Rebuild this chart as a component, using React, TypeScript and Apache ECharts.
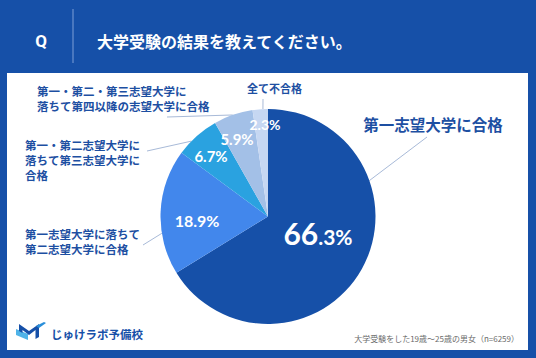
import React, { useEffect, useRef } from 'react';
import * as echarts from 'echarts';

// ---- data ----
const categories = [
  '第一志望大学に合格',
  '第一志望大学に落ちて\n第二志望大学に合格',
  '第一・第二志望大学に\n落ちて第三志望大学に\n合格',
  '第一・第二・第三志望大学に\n落ちて第四以降の志望大学に合格',
  '全て不合格',
];
const values = [66.3, 18.9, 6.7, 5.9, 2.3];
const titleText = '大学受験の結果を教えてください。';
const sourceText = '大学受験をした19歳～25歳の男女（n=6259）';
const brandText = 'じゅけラボ予備校';

// ---- styles / layout ----
const sliceColors = ['#1650A8', '#4287EC', '#2AA2E0', '#A3C0E7', '#C6D7F2'];
const BG = '#1650A8';
const LABEL_COLOR = '#1D4FA2';
const CENTER: [number, number] = [268, 216.5];
const RADIUS = 107.5;
const innerTargets: [number, number][] = [[318, 233], [197, 220], [211, 156], [237, 139], [265, 124]];
const innerSizes = [0, 16, 15, 15, 14];
const outerAnchors: [number, number, string][] = [
  [433, 124, 'center'],
  [25, 241.5, 'left'],
  [25, 159.5, 'left'],
  [37, 98.5, 'left'],
  [274.5, 88, 'center'],
];
const outerSizes = [15.5, 11.5, 11.5, 11.5, 11];
const leaderAngles = [70.5, 261, 314.5, 340.8, 357.3];
const leaderEnds: [number, number][] = [[427, 137], [143, 245], [147, 151], [167, 117], [263, 99]];

const edgePoint = (deg: number): [number, number] => {
  const a = (deg * Math.PI) / 180;
  return [CENTER[0] + RADIUS * Math.sin(a), CENTER[1] - RADIUS * Math.cos(a)];
};

export default function App() {
  const ref = useRef<HTMLDivElement>(null);
  useEffect(() => {
    if (!ref.current) return;
    const chart = echarts.init(ref.current, undefined, { renderer: 'svg' });
    const cjk = '"Noto Sans CJK JP", "Noto Sans", sans-serif';
    const option: any = {
      animation: false,
      backgroundColor: BG,
      graphic: [
        { type: 'rect', z: 0, shape: { x: 7, y: 73, width: 521, height: 277 }, style: { fill: '#ffffff' } },
        { type: 'line', z: 1, shape: { x1: 73, y1: 9, x2: 73, y2: 63 }, style: { stroke: '#7C9ED6', lineWidth: 1 } },
        {
          type: 'text', z: 1, x: 41, y: 41,
          style: { text: 'Q', fill: '#fff', fontSize: 17, fontWeight: 'bold', fontFamily: 'Roboto', align: 'center', verticalAlign: 'middle' },
        },
        {
          type: 'text', z: 1, x: 97, y: 41,
          style: { text: titleText, fill: '#fff', fontSize: 16, fontWeight: 'bold', fontFamily: cjk, align: 'left', verticalAlign: 'middle' },
        },
        {
          type: 'polygon', z: 1,
          shape: { points: [[16, 329], [28, 334], [28, 340], [16, 335]] },
          style: { fill: '#4FB3E8' },
        },
        {
          type: 'polygon', z: 1,
          shape: { points: [[19, 324], [29, 331], [39, 324], [39, 337], [35.5, 339], [35.5, 330], [29, 335], [22.5, 330], [22.5, 333], [19, 331]] },
          style: { fill: '#1650A8' },
        },
        {
          type: 'polygon', z: 1,
          shape: { points: [[36, 326], [44, 322], [46, 323], [39, 328]] },
          style: { fill: '#2A8FDA' },
        },
        {
          type: 'text', z: 1, x: 51, y: 334,
          style: { text: brandText, fill: '#1650A8', fontSize: 11.5, fontWeight: 'bold', fontFamily: cjk, align: 'left', verticalAlign: 'middle' },
        },
        {
          type: 'text', z: 1, x: 519, y: 338.5,
          style: { text: sourceText, fill: '#6B6B6B', fontSize: 8, fontFamily: cjk, align: 'right', verticalAlign: 'middle' },
        },
      ],
      series: [
        {
          type: 'pie',
          center: CENTER,
          radius: [0, RADIUS],
          startAngle: 90,
          clockwise: true,
          silent: true,
          label: {
            show: true,
            position: 'inside',
            color: '#fff',
            fontFamily: 'Lato, Roboto, sans-serif',
            fontWeight: 'bold',
            formatter: (p: any) => {
              const s = Number(p.value).toFixed(1);
              if (p.dataIndex === 0) {
                const [ip, dp] = s.split('.');
                return `{big|${ip}}{small|.${dp}%}`;
              }
              return `${s}%`;
            },
            rich: {
              big: { fontSize: 30, fontWeight: 'bold', color: '#fff', fontFamily: 'Lato, Roboto, sans-serif' },
              small: { fontSize: 21, fontWeight: 'bold', color: '#fff', fontFamily: 'Lato, Roboto, sans-serif', padding: [6, 0, 0, 0] },
            },
          },
          labelLine: { show: false },
          labelLayout: (p: any) => ({
            x: innerTargets[p.dataIndex][0],
            y: innerTargets[p.dataIndex][1],
            align: 'center',
            verticalAlign: 'middle',
          }),
          itemStyle: { borderWidth: 0 },
          data: values.map((v, i) => ({
            value: v,
            name: categories[i],
            itemStyle: { color: sliceColors[i] },
            label: i > 0 ? { fontSize: innerSizes[i] } : {},
          })),
        },
        {
          type: 'pie',
          center: CENTER,
          radius: [0, RADIUS],
          startAngle: 90,
          clockwise: true,
          silent: true,
          avoidLabelOverlap: false,
          itemStyle: { color: 'rgba(0,0,0,0)', borderWidth: 0 },
          label: {
            show: true,
            position: 'outside',
            color: LABEL_COLOR,
            fontWeight: 'bold',
            fontFamily: cjk,
            lineHeight: 15,
            formatter: '{b}',
          },
          labelLine: { show: true, length: 10, length2: 0, lineStyle: { color: '#A8BAD8', width: 1 } },
          labelLayout: (p: any) => {
            const i = p.dataIndex;
            return {
              x: outerAnchors[i][0],
              y: outerAnchors[i][1],
              align: outerAnchors[i][2],
              verticalAlign: 'middle',
              labelLinePoints: [edgePoint(leaderAngles[i]), leaderEnds[i]],
            };
          },
          data: values.map((v, i) => ({
            value: v,
            name: categories[i],
            label: { fontSize: outerSizes[i], lineHeight: i === 0 ? 20 : 15 },
          })),
        },
      ],
    };
    chart.setOption(option);
    return () => chart.dispose();
  }, []);
  return <div ref={ref} style={{ position: 'fixed', left: 0, top: 0, width: 536, height: 358 }} />;
}
